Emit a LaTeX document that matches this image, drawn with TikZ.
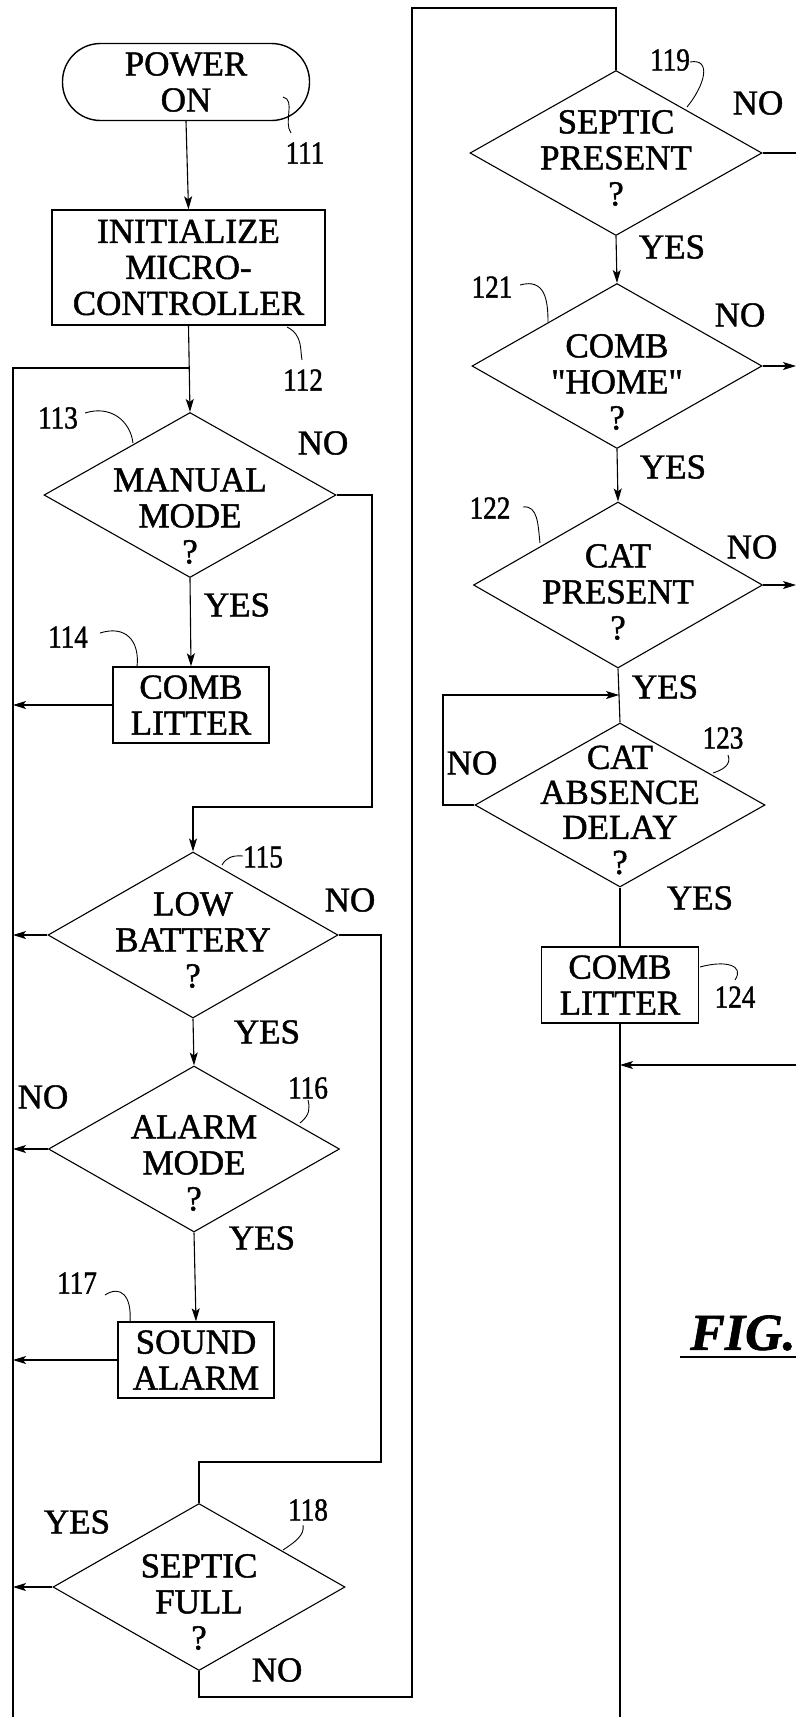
\documentclass[tikz,border=0pt]{standalone}
\usepackage{fontspec}
\setmainfont{Liberation Serif}[FakeBold=1.2]
\newfontfamily\txtfam[FakeBold=1.3]{Liberation Serif}
\newfontfamily\numfam[FakeStretch=0.85,FakeBold=1.3]{Liberation Serif}
\usetikzlibrary{shapes.geometric,arrows.meta}
\newcommand\mytxt{\txtfam\fontsize{35}{36}\selectfont}
\newcommand\mynum{\numfam\fontsize{32}{32}\selectfont}
\begin{document}
\begin{tikzpicture}[x=1pt,y=-1pt,
  ln/.style={line width=1.1pt},
  arr/.style={ln,-{Stealth[length=13pt,width=8pt,inset=3pt]}},
  txt/.style={font=\mytxt,align=center,inner sep=0pt},
  num/.style={font=\mynum,inner sep=0pt},
  dec/.style={diamond,draw,line width=1.1pt,inner sep=0pt},
  proc/.style={draw,line width=1.4pt,inner sep=0pt,align=center,font=\mytxt},
  lead/.style={line width=0.9pt}]
\useasboundingbox[fill=white] (0,0) rectangle (796,1717);

% ---- left column ----
\node[proc,rounded corners=38pt,minimum width=247pt,minimum height=77pt] (t111) at (186,82) {POWER\\ON};
\node[proc,minimum width=273pt,minimum height=115pt] (b112) at (188.5,267.5) {INITIALIZE\\MICRO-\\CONTROLLER};
\node[dec,minimum width=292pt,minimum height=165pt] (d113) at (190,495) {};
\node[txt] (t113) at (190,516) {MANUAL\\MODE\\?};
\node[proc,minimum width=156pt,minimum height=76pt] (b114) at (191,705) {COMB\\LITTER};
\node[dec,minimum width=290pt,minimum height=166pt] (d115) at (193,935) {};
\node[txt] (t115) at (193,940) {LOW\\BATTERY\\?};
\node[dec,minimum width=291pt,minimum height=166pt] (d116) at (194,1149) {};
\node[txt] (t116) at (194,1163) {ALARM\\MODE\\?};
\node[proc,minimum width=156pt,minimum height=76pt] (b117) at (196,1360) {SOUND\\ALARM};
\node[dec,minimum width=292pt,minimum height=167pt] (d118) at (199,1587) {};
\node[txt] (t118) at (199,1602) {SEPTIC\\FULL\\?};

% ---- right column ----
\node[dec,minimum width=292pt,minimum height=165pt] (d119) at (616,153) {};
\node[txt] (t119) at (616,158) {SEPTIC\\PRESENT\\?};
\node[dec,minimum width=290pt,minimum height=165pt] (d121) at (617,366) {};
\node[txt] (t121) at (617,382) {COMB\\"HOME"\\?};
\node[dec,minimum width=289pt,minimum height=166pt] (d122) at (618,585) {};
\node[txt] (t122) at (618,592) {CAT\\PRESENT\\?};
\node[dec,minimum width=290pt,minimum height=164pt] (d123) at (620,805) {};
\node[txt,font=\txtfam\fontsize{35}{35}\selectfont] (t123) at (620,810) {CAT\\ABSENCE\\DELAY\\?};
\node[proc,minimum width=157pt,minimum height=76pt] (b124) at (620,985) {COMB\\LITTER};

% ---- coordinates ----
\coordinate (ltop) at (13,368);
\coordinate (lbot) at (13,1717);
\coordinate (jA) at (189.2,368);
\coordinate (n1a) at (372,807);
\coordinate (n1b) at (193,807);
\coordinate (n2a) at (381,1462);
\coordinate (n2b) at (199,1462);
\coordinate (n3a) at (412,1697);
\coordinate (n3b) at (412,8);
\coordinate (e119) at (796,153);
\coordinate (e121) at (796,366);
\coordinate (e122) at (796,585);
\coordinate (lp) at (443,695);
\coordinate (jB) at (619,695);
\coordinate (rbot) at (620,1717);
\coordinate (e124) at (796,1065);

% ---- connectors left ----
\draw[arr] (t111.south) -- (b112.north);
\draw[arr] (b112.south) -- (d113.north);
\draw[ln] (lbot) -- (ltop) -- (jA);
\draw[arr] (d113.south) -- (b114.north);
\draw[arr] (b114.west) -- (b114.west -| lbot);
\draw[arr] (d113.east) -| (n1a) -- (n1b) -- (d115.north);
\draw[arr] (d115.west) -- (d115.west -| lbot);
\draw[arr] (d115.south) -- (d116.north);
\draw[ln] (d115.east) -| (n2a) -- (n2b) -- (d118.north);
\draw[arr] (d116.west) -- (d116.west -| lbot);
\draw[arr] (d116.south) -- (b117.north);
\draw[arr] (b117.west) -- (b117.west -| lbot);
\draw[arr] (d118.west) -- (d118.west -| lbot);
\draw[ln] (d118.south) |- (n3a) -- (n3b) -| (d119.north);

% ---- connectors right ----
\draw[ln] (d119.east) -- (e119);
\draw[arr] (d119.south) -- (d121.north);
\draw[arr] (d121.east) -- (e121);
\draw[arr] (d121.south) -- (d122.north);
\draw[arr] (d122.east) -- (e122);
\draw[ln] (d122.south) -- (d123.north);
\draw[arr] (d123.west) -| (lp) -- (jB);
\draw[ln] (d123.south) -- (b124.north);
\draw[ln] (b124.south) -- (rbot);
\draw[arr] (e124) -- (e124 -| rbot);

% ---- YES / NO ----
\node[txt] (no113) at (323,443) {NO};
\node[txt] (yes113) at (237,605) {YES};
\node[txt] (no115) at (350,900) {NO};
\node[txt] (yes115) at (267,1032) {YES};
\node[txt] (no116) at (43,1097) {NO};
\node[txt] (yes116) at (262,1238) {YES};
\node[txt] (yes118) at (77,1522) {YES};
\node[txt] (no118) at (277,1670) {NO};
\node[txt] (no119) at (758,103) {NO};
\node[txt] (yes119) at (672,247) {YES};
\node[txt] (no121) at (740,315) {NO};
\node[txt] (yes121) at (673,467) {YES};
\node[txt] (no122) at (752,547) {NO};
\node[txt] (yes122) at (665,687) {YES};
\node[txt] (no123) at (472,763) {NO};
\node[txt] (yes123) at (700,898) {YES};

% ---- reference numerals ----
\node[num] (l111) at (305,153) {111};
\node[num] (l112) at (303,380) {112};
\node[num] (l113) at (58,418) {113};
\node[num] (l114) at (68,637) {114};
\node[num] (l115) at (263,857) {115};
\node[num] (l116) at (308,1088) {116};
\node[num] (l117) at (77,1283) {117};
\node[num] (l118) at (308,1510) {118};
\node[num] (l119) at (670,60) {119};
\node[num] (l121) at (492,287) {121};
\node[num] (l122) at (490,508) {122};
\node[num] (l123) at (723,738) {123};
\node[num] (l124) at (735,997) {124};

\draw[lead] (283,97) .. controls (296,100) and (283,122) .. (291,133);
\draw[lead] (287,327) .. controls (303,335) and (300,350) .. (302,360);
\draw[lead] (85,413) .. controls (110,405) and (130,420) .. (133,443);
\draw[lead] (100,633) .. controls (125,625) and (140,640) .. (137,667);
\draw[lead] (222,865) .. controls (226,858) and (232,855) .. (243,856);
\draw[lead] (300,1123) .. controls (310,1115) and (310,1108) .. (308,1100);
\draw[lead] (105,1295) .. controls (120,1285) and (132,1295) .. (130,1322);
\draw[lead] (283,1550) .. controls (295,1542) and (305,1535) .. (303,1525);
\draw[lead] (690,62) .. controls (712,58) and (705,85) .. (687,107);
\draw[lead] (520,285) .. controls (545,278) and (548,300) .. (548,322);
\draw[lead] (523,507) .. controls (538,505) and (538,525) .. (540,543);
\draw[lead] (728,755) .. controls (732,765) and (722,770) .. (713,773);
\draw[lead] (700,967) .. controls (725,960) and (745,965) .. (735,980);

% ---- figure caption ----
\node[font=\fontsize{52}{52}\selectfont\bfseries\itshape,anchor=west,inner sep=0pt] (fig) at (690,1333) {FIG.};
\draw[line width=1.4pt] (680,1357) -- (796,1357);
\end{tikzpicture}
\end{document}
